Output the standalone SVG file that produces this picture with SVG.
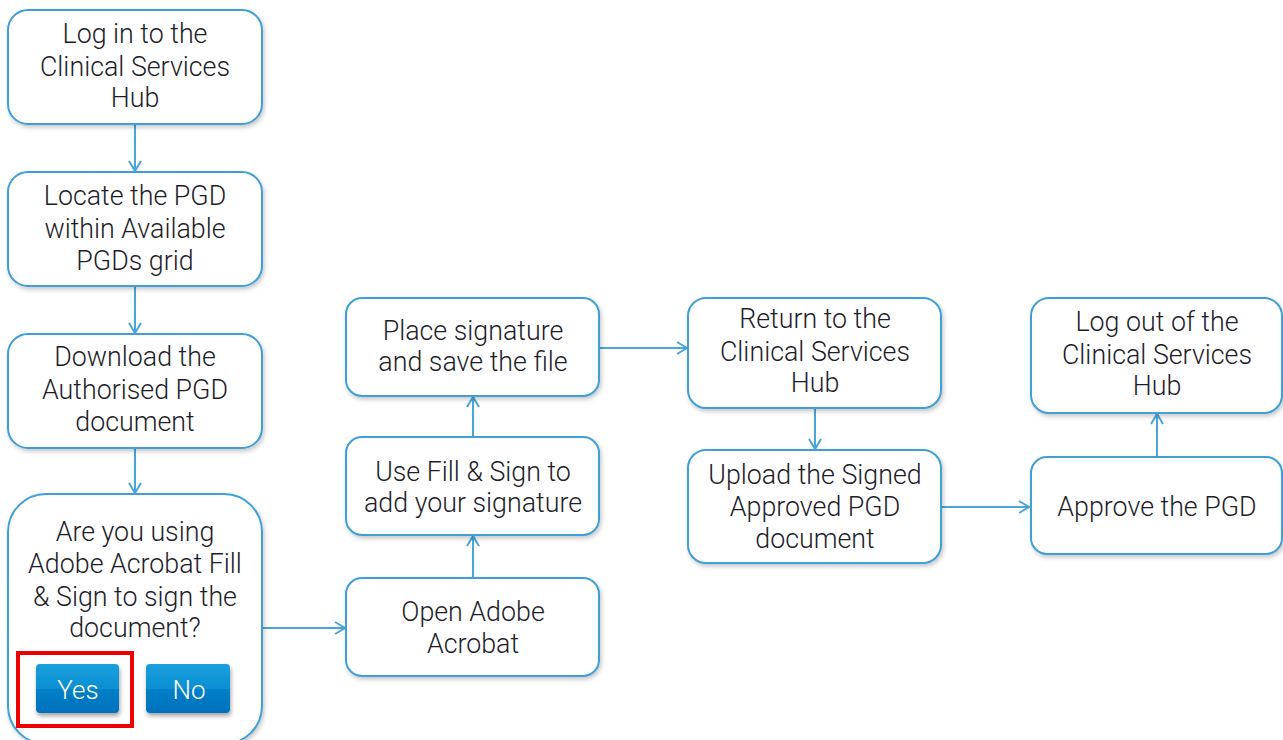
<svg xmlns="http://www.w3.org/2000/svg" width="1283" height="740" viewBox="0 0 1283 740">
<defs>
<style>
.box{fill:#fff;stroke:#3f9fd8;stroke-width:2;filter:url(#sh)}
.t{font-family:Roboto,"Liberation Sans",sans-serif;font-weight:300;font-size:26.8px;fill:#1e1e2a;text-anchor:middle}
.c{fill:none;stroke:#4aa5dc;stroke-width:2}
.bt{font-family:Roboto,"Liberation Sans",sans-serif;font-weight:300;font-size:26px;fill:#fff;text-anchor:middle}
.btn{fill:url(#bg);filter:url(#sh2)}
</style>
<filter id="sh" x="-10%" y="-10%" width="125%" height="130%">
<feDropShadow dx="1.5" dy="2.5" stdDeviation="2" flood-color="#000" flood-opacity="0.22"/>
</filter>
<filter id="sh2" x="-10%" y="-10%" width="130%" height="140%">
<feDropShadow dx="1" dy="3" stdDeviation="2" flood-color="#000" flood-opacity="0.35"/>
</filter>
<linearGradient id="bg" x1="0" y1="0" x2="0" y2="1">
<stop offset="0" stop-color="#1aa0dd"/>
<stop offset="0.5" stop-color="#0a8fd3"/>
<stop offset="0.52" stop-color="#0480c8"/>
<stop offset="1" stop-color="#0070bd"/>
</linearGradient>
<marker id="ah" markerWidth="14" markerHeight="14" refX="12" refY="7" orient="auto" markerUnits="userSpaceOnUse">
<polyline points="2,1 12,7 2,13" fill="none" stroke="#4aa5dc" stroke-width="2"/>
</marker>
</defs>
<rect width="1283" height="740" fill="#fff"/>
<g id="connectors">
<line class="c" x1="135" y1="124" x2="135" y2="171" marker-end="url(#ah)"/>
<line class="c" x1="135" y1="286" x2="135" y2="333" marker-end="url(#ah)"/>
<line class="c" x1="135" y1="448" x2="135" y2="493" marker-end="url(#ah)"/>
<line class="c" x1="262" y1="628" x2="345" y2="628" marker-end="url(#ah)"/>
<line class="c" x1="473" y1="578" x2="473" y2="536" marker-end="url(#ah)"/>
<line class="c" x1="473" y1="437" x2="473" y2="397" marker-end="url(#ah)"/>
<line class="c" x1="599" y1="348" x2="687" y2="348" marker-end="url(#ah)"/>
<line class="c" x1="815" y1="408" x2="815" y2="449" marker-end="url(#ah)"/>
<line class="c" x1="941" y1="507" x2="1029" y2="507" marker-end="url(#ah)"/>
<line class="c" x1="1157" y1="457" x2="1157" y2="414" marker-end="url(#ah)"/>
</g>
<g id="n1"><rect class="box" x="8" y="10" width="254" height="114" rx="20"/>
<text class="t" x="135" y="43">Log in to the</text><text class="t" x="135" y="76">Clinical Services</text><text class="t" x="135" y="107">Hub</text></g>
<g id="n2"><rect class="box" x="8" y="172" width="254" height="114" rx="20"/>
<text class="t" x="135" y="205">Locate the PGD</text><text class="t" x="135" y="238">within Available</text><text class="t" x="135" y="270">PGDs grid</text></g>
<g id="n3"><rect class="box" x="8" y="334" width="254" height="114" rx="20"/>
<text class="t" x="135" y="366">Download the</text><text class="t" x="135" y="399">Authorised PGD</text><text class="t" x="135" y="431">document</text></g>
<g id="n4"><rect class="box" x="8" y="494" width="254" height="250" rx="38"/>
<text class="t" x="135" y="541">Are you using</text><text class="t" x="135" y="573">Adobe Acrobat Fill</text><text class="t" x="135" y="606">&amp; Sign to sign the</text><text class="t" x="135" y="637">document?</text>
<rect class="btn" x="36" y="664" width="83" height="49" rx="4"/>
<text class="bt" x="78" y="699">Yes</text>
<rect class="btn" x="146" y="664" width="84" height="49" rx="4"/>
<text class="bt" x="189" y="699">No</text>
<rect x="18" y="653" width="114" height="73" fill="none" stroke="#ee0000" stroke-width="4"/></g>
<g id="n5"><rect class="box" x="346" y="578" width="253" height="98" rx="16"/>
<text class="t" x="473" y="621">Open Adobe</text><text class="t" x="473" y="653">Acrobat</text></g>
<g id="n6"><rect class="box" x="346" y="437" width="253" height="98" rx="16"/>
<text class="t" x="473" y="481">Use Fill &amp; Sign to</text><text class="t" x="473" y="512">add your signature</text></g>
<g id="n7"><rect class="box" x="346" y="298" width="253" height="98" rx="16"/>
<text class="t" x="473" y="340">Place signature</text><text class="t" x="473" y="371">and save the file</text></g>
<g id="n8"><rect class="box" x="688" y="298" width="253" height="110" rx="18"/>
<text class="t" x="815" y="328">Return to the</text><text class="t" x="815" y="361">Clinical Services</text><text class="t" x="815" y="392">Hub</text></g>
<g id="n9"><rect class="box" x="688" y="450" width="253" height="113" rx="18"/>
<text class="t" x="815" y="484">Upload the Signed</text><text class="t" x="815" y="516">Approved PGD</text><text class="t" x="815" y="548">document</text></g>
<g id="n10"><rect class="box" x="1031" y="457" width="251" height="97" rx="16"/>
<text class="t" x="1157" y="516">Approve the PGD</text></g>
<g id="n11"><rect class="box" x="1031" y="298" width="251" height="115" rx="18"/>
<text class="t" x="1157" y="331">Log out of the</text><text class="t" x="1157" y="364">Clinical Services</text><text class="t" x="1157" y="395">Hub</text></g>
</svg>
